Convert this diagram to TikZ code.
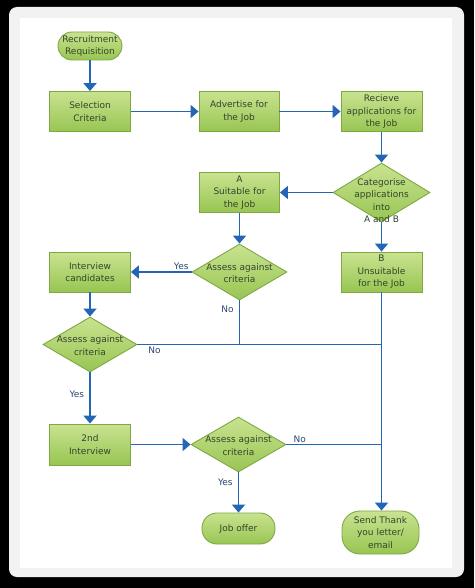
\documentclass[tikz,border=0pt]{standalone}
\usepackage{fontspec}
\setmainfont{DejaVu Sans}
\usetikzlibrary{arrows.meta,shapes.geometric}
\definecolor{boxtop}{HTML}{C9E390}
\definecolor{boxmid}{HTML}{ADD466}
\definecolor{boxbot}{HTML}{98C553}
\definecolor{boxline}{HTML}{7FA843}
\definecolor{flowblue}{HTML}{2465B5}
\definecolor{boxtext}{HTML}{33452A}
\definecolor{lbltext}{HTML}{2B4675}
\definecolor{panelgrey}{HTML}{F2F2F2}
\def\flowfont{\fontsize{9}{12.5}\selectfont}
\tikzset{
  procbox/.style={rectangle, draw=boxline, line width=0.9pt, top color=boxtop, middle color=boxmid, bottom color=boxbot, text=boxtext, align=center, font=\flowfont, inner sep=0pt, minimum width=81pt, minimum height=40pt},
  termbox/.style={procbox, rounded corners=#1},
  decbox/.style={diamond, draw=boxline, line width=0.9pt, top color=boxtop, middle color=boxmid, bottom color=boxbot, inner sep=0pt, minimum width=95pt, minimum height=56pt},
  dectext/.style={text=boxtext, align=center, font=\flowfont, inner sep=0pt},
  flowline/.style={draw=flowblue, line width=1.9pt},
  flowarrow/.style={flowline, -{Triangle[width=13pt,length=8pt]}},
  lbl/.style={text=lbltext, font=\flowfont, inner sep=1pt}
}

\begin{document}
\begin{tikzpicture}[x=10pt,y=-10pt]
		%%%%% START %%%%%
		
		\fill[black] (0, 0) rectangle (47.4, 58.8);
		\fill[panelgrey, rounded corners=8pt] (0.9, 0.7) rectangle (46.4, 57.7);
		\fill[white] (2.0, 1.8) rectangle (45.2, 56.8);
		
		\node[termbox=14pt, minimum width=64pt, minimum height=28pt] (req) at (9.0, 4.6) {Recruitment\\Requisition};
		\node[procbox] (sel) at (9.0, 11.15) {Selection\\Criteria};
		\node[procbox, minimum width=80pt] (adv) at (23.9, 11.15) {Advertise for\\the Job};
		\node[procbox] (rec) at (38.15, 11.15) {Recieve\\applications for\\the Job};
		
		\node[decbox, minimum width=97pt, minimum height=59pt, label={[dectext, yshift=-8pt]center:Categorise\\applications\\into\\A and B}] (cat) at (38.15, 19.25) {};
		\node[procbox, minimum width=80pt] (suit) at (23.95, 19.25) {A\\Suitable for\\the Job};
		
		\node[decbox, label={[dectext, yshift=-1pt]center:Assess against\\criteria}] (as1) at (23.95, 27.2) {};
		\node[procbox] (unsuit) at (38.15, 27.2) {B\\Unsuitable\\for the Job};
		\node[procbox] (int) at (9.0, 27.2) {Interview\\candidates};
		
		\node[decbox, minimum width=94pt, minimum height=55pt, label={[dectext, yshift=-1pt]center:Assess against\\criteria}] (as2) at (9.0, 34.45) {};
		
		\node[procbox, minimum height=41pt] (sec) at (9.0, 44.45) {2nd\\Interview};
		\node[decbox, minimum height=55pt, label={[dectext, yshift=-1pt]center:Assess against\\criteria}] (as3) at (23.85, 44.45) {};
		
		\node[termbox=15pt, minimum width=73pt, minimum height=31pt] (job) at (23.85, 52.85) {Job offer};
		\node[termbox=18pt, minimum width=77pt, minimum height=43pt] (thx) at (38.05, 53.25) {Send Thank\\you letter/\\email};
		
		\coordinate (j1) at (as1 |- as2);
		\coordinate (j2) at (unsuit |- as2);
		\coordinate (j3) at (unsuit |- as3);
		
		\draw[flowarrow] (req) -- (sel);
		\draw[flowarrow] (sel) -- (adv);
		\draw[flowarrow] (adv) -- (rec);
		\draw[flowarrow] (rec) -- (cat);
		\draw[flowarrow] (cat) -- (suit);
		\draw[flowarrow] (cat) -- (unsuit);
		\draw[flowarrow] (suit) -- (as1);
		\draw[flowarrow] (as1) -- node[lbl, above, pos=0.17] (yes1) {Yes} (int);
		\draw[flowarrow] (int) -- (as2);
		\draw[flowline] (as1) -- node[lbl, left=4pt, pos=0.2] (no1) {No} (j1);
		\draw[flowline] (as2) -- node[lbl, below, pos=0.07] (no2) {No} (j2);
		\draw[flowarrow] (as2) -- node[lbl, left=4pt, pos=0.42] (yes2) {Yes} (sec);
		\draw[flowarrow] (sec) -- (as3);
		\draw[flowline] (as3) -- node[lbl, above, pos=0.14] (no3) {No} (j3);
		\draw[flowarrow] (as3) -- node[lbl, left=4pt, pos=0.25] (yes3) {Yes} (job);
		\draw[flowarrow] (unsuit) -- (unsuit |- thx.north);
		
		%%%%% END %%%%%
\end{tikzpicture}
\end{document}
